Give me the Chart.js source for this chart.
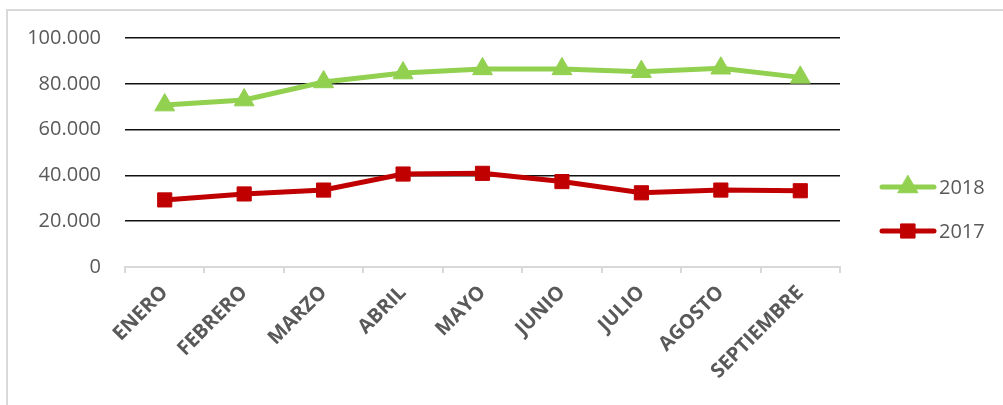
<!DOCTYPE html>
<html>
<head>
<meta charset="utf-8">
<script src="https://cdn.jsdelivr.net/npm/chart.js@4/dist/chart.umd.min.js"></script>
<style>
  html, body { margin: 0; padding: 0; background: #fff; }
  #wrap { position: relative; width: 1003px; height: 405px; }
  #frame {
    position: absolute; left: 6px; top: 9px; right: 0; bottom: 0;
    border-left: 2px solid #d9d9d9; border-top: 2px solid #d9d9d9;
    pointer-events: none;
  }
</style>
</head>
<body>
<div id="wrap">
  <canvas id="chart" width="1003" height="405"></canvas>
  <div id="frame"></div>
</div>
<script>
// months on the x axis
const months = ['ENERO', 'FEBRERO', 'MARZO', 'ABRIL', 'MAYO', 'JUNIO', 'JULIO', 'AGOSTO', 'SEPTIEMBRE'];
// series values
const values2018 = [70700, 72900, 80800, 84700, 86500, 86500, 85300, 86800, 82800];
const values2017 = [29300, 31900, 33600, 40600, 40900, 37300, 32400, 33600, 33300];
// y ticks
const yTicks = [0, 20000, 40000, 60000, 80000, 100000];

const GREEN = '#92d050';
const RED = '#c00000';
const TEXT = '#595959';

const fmt = v => String(v).replace(/\B(?=(\d{3})+(?!\d))/g, '.');

// legend on the right, drawn with line + marker like the spreadsheet
const sideLegend = {
  id: 'sideLegend',
  afterDraw(chart) {
    const ctx = chart.ctx;
    const items = [
      { ds: chart.data.datasets[0], y: 187 },
      { ds: chart.data.datasets[1], y: 231 }
    ];
    items.forEach(it => {
      ctx.save();
      ctx.strokeStyle = it.ds.borderColor;
      ctx.lineWidth = 5;
      ctx.lineCap = 'round';
      ctx.beginPath();
      ctx.moveTo(882, it.y);
      ctx.lineTo(934, it.y);
      ctx.stroke();
      ctx.fillStyle = it.ds.pointBackgroundColor;
      ctx.strokeStyle = it.ds.pointBorderColor;
      ctx.lineWidth = 1;
      Chart.helpers.drawPoint(ctx, {
        pointStyle: it.ds.pointStyle,
        radius: it.ds.pointRadius,
        borderWidth: 1,
        rotation: 0
      }, 908, it.y);
      ctx.fillStyle = TEXT;
      ctx.font = '20px "Open Sans"';
      ctx.textBaseline = 'middle';
      ctx.textAlign = 'left';
      ctx.fillText(it.ds.label, 939, it.y + 1);
      ctx.restore();
    });
  }
};

const ctx = document.getElementById('chart').getContext('2d');
new Chart(ctx, {
  type: 'line',
  data: {
    labels: months,
    datasets: [
      {
        label: '2018',
        data: values2018,
        borderColor: GREEN,
        borderWidth: 5,
        pointStyle: 'triangle',
        pointRadius: 11.5,
        pointBackgroundColor: GREEN,
        pointBorderColor: GREEN,
        pointBorderWidth: 1,
        tension: 0
      },
      {
        label: '2017',
        data: values2017,
        borderColor: RED,
        borderWidth: 5,
        pointStyle: 'rect',
        pointRadius: 10,
        pointBackgroundColor: RED,
        pointBorderColor: RED,
        pointBorderWidth: 1,
        tension: 0
      }
    ]
  },
  options: {
    responsive: false,
    animation: false,
    layout: { padding: { left: 0, top: 38, right: 163, bottom: 0 } },
    plugins: {
      legend: { display: false },
      tooltip: { enabled: false }
    },
    scales: {
      x: {
        offset: true,
        grid: {
          display: true,
          offset: true,
          drawOnChartArea: false,
          color: '#d9d9d9',
          lineWidth: 2,
          tickLength: 6
        },
        border: { display: true, color: '#d9d9d9', width: 2 },
        ticks: {
          minRotation: 45,
          maxRotation: 45,
          autoSkip: false,
          padding: 8,
          color: TEXT,
          font: { family: 'Open Sans', size: 20, weight: 'bold' }
        },
        afterFit(scale) { scale.height = 138; }
      },
      y: {
        min: 0,
        max: 100000,
        afterBuildTicks(scale) { scale.ticks = yTicks.map(v => ({ value: v })); },
        grid: {
          drawTicks: false,
          color: c => c.tick.value === 0 ? 'rgba(0,0,0,0)' : '#111111',
          lineWidth: 1.5
        },
        border: { display: false },
        ticks: {
          padding: 24,
          color: TEXT,
          font: { family: 'Open Sans', size: 20 },
          callback: v => fmt(v)
        },
        afterFit(scale) { scale.width = 125; }
      }
    }
  },
  plugins: [sideLegend]
});
</script>
</body>
</html>
